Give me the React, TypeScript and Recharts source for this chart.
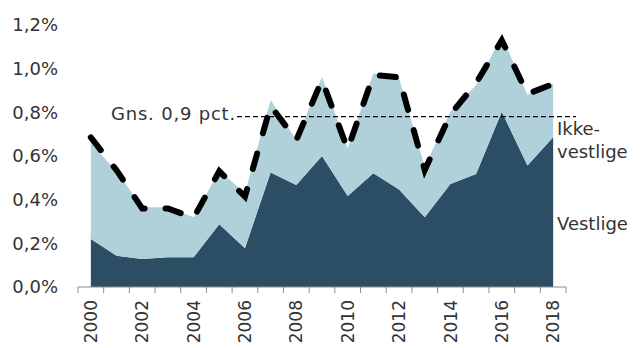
import { ComposedChart, Area, Line, XAxis, YAxis, ReferenceLine } from "recharts";

const years = [2000, 2001, 2002, 2003, 2004, 2005, 2006, 2007, 2008, 2009, 2010, 2011, 2012, 2013, 2014, 2015, 2016, 2017, 2018];
// andel i pct.
const vestlige = [0.22, 0.143, 0.128, 0.136, 0.136, 0.287, 0.177, 0.525, 0.467, 0.6, 0.417, 0.521, 0.447, 0.319, 0.472, 0.518, 0.803, 0.556, 0.686];
const ikkeVestlige = [0.438, 0.387, 0.237, 0.229, 0.184, 0.246, 0.253, 0.332, 0.206, 0.363, 0.218, 0.458, 0.509, 0.232, 0.331, 0.407, 0.347, 0.324, 0.244];
const samlet = [0.685, 0.535, 0.36, 0.36, 0.316, 0.53, 0.414, 0.83, 0.673, 0.948, 0.63, 0.971, 0.96, 0.536, 0.79, 0.934, 1.13, 0.884, 0.93];
const yTicks = [0, 0.2, 0.4, 0.6, 0.8, 1.0, 1.2];
const labelYears = [2000, 2002, 2004, 2006, 2008, 2010, 2012, 2014, 2016, 2018];
const gennemsnit = 0.78;

const bandEdges = [...years.map((y) => y - 0.5), years[years.length - 1] + 0.5];
const domain = [bandEdges[0], bandEdges[bandEdges.length - 1]];

const data = years.map((year, i) => ({
  year,
  vestlige: vestlige[i],
  ikkeVestlige: ikkeVestlige[i],
  samlet: samlet[i],
}));

const font = "'DejaVu Sans', sans-serif";
const textColor = "#333333";

function YearTick(props: any) {
  const { x, payload } = props;
  const y = 300;
  return (
    <text x={x} y={y} transform={`rotate(-90, ${x}, ${y})`} textAnchor="end" dy="0.36em"
      fontSize={17} fontFamily={font} fill={textColor}>
      {payload.value}
    </text>
  );
}

export default function App() {
  return (
    <div style={{ position: "absolute", left: 0, top: 0, width: 640, height: 348, background: "#fff" }}>
      <ComposedChart width={640} height={348} data={data} margin={{ top: 25, right: 74, bottom: 0, left: 0 }}>
        <XAxis xAxisId="edges" type="number" dataKey="year" domain={domain} ticks={bandEdges} interval={0}
          tick={() => <g />} height={1} stroke="#8c8c8c" tickSize={6} allowDataOverflow />
        <XAxis xAxisId="labels" type="number" dataKey="year" domain={domain} ticks={labelYears} interval={0}
          axisLine={false} tickLine={false} height={60} tick={<YearTick />} allowDataOverflow />
        <YAxis type="number" domain={[0, 1.2]} ticks={yTicks} width={78} axisLine={false} tickLine={false}
          tickMargin={14} interval={0}
          tick={{ fill: textColor, fontSize: 18, fontFamily: font }}
          tickFormatter={(v: number) => v.toFixed(1).replace(".", ",") + "%"} />
        <Area xAxisId="edges" type="linear" dataKey="vestlige" stackId="a" stroke="none" fill="#2c4e64"
          fillOpacity={1} isAnimationActive={false} />
        <Area xAxisId="edges" type="linear" dataKey="ikkeVestlige" stackId="a" stroke="none" fill="#b0d0da"
          fillOpacity={1} isAnimationActive={false} />
        <ReferenceLine xAxisId="edges" ifOverflow="visible"
          segment={[{ x: 2005.69, y: gennemsnit }, { x: 2018.89, y: gennemsnit }]}
          stroke="#000" strokeWidth={1.2} strokeDasharray="5 3"
          label={{ value: "Gns. 0,9 pct.", position: "left", offset: 1, fill: textColor, fontSize: 18, fontFamily: font, dy: -3, letterSpacing: 0.8 }} />
        <Line xAxisId="edges" type="linear" dataKey="samlet" stroke="#000" strokeWidth={6}
          strokeDasharray="16 21" strokeLinecap="round" dot={false} activeDot={false} isAnimationActive={false} />
      </ComposedChart>
      <div style={{ position: "absolute", left: 557, top: 117, fontFamily: font, fontSize: 18, lineHeight: "23px", color: textColor }}>
        Ikke-<br />vestlige
      </div>
      <div style={{ position: "absolute", left: 557, top: 212, fontFamily: font, fontSize: 18, lineHeight: "23px", color: textColor }}>
        Vestlige
      </div>
    </div>
  );
}
